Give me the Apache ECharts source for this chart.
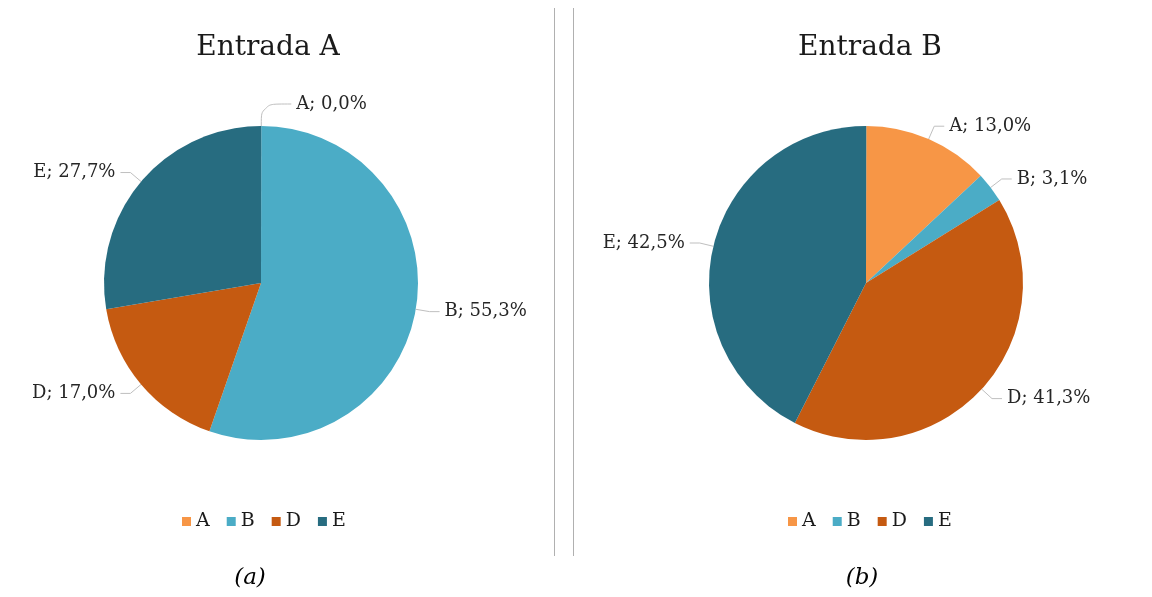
<!DOCTYPE html>
<html>
<head>
<meta charset="utf-8">
<script src="https://cdn.jsdelivr.net/npm/echarts@6/dist/echarts.min.js"></script>
<style>
html,body{margin:0;padding:0;background:#fff;}
#c{width:1152px;height:597px;}
</style>
</head>
<body>
<div id="c"></div>
<script>
const categories = ['A', 'B', 'D', 'E'];
const valuesA = [0.0, 55.3, 17.0, 27.7];
const valuesB = [13.0, 3.1, 41.3, 42.5];
const titles = ['Entrada A', 'Entrada B'];
const captions = ['(a)', '(b)'];
const colors = ['#F79646', '#4BACC6', '#C55A11', '#276C80'];

const FONT = '"DejaVu Serif", "Liberation Serif", serif';
const fmt = p => p.name + '; ' + p.value.toFixed(1).replace('.', ',') + '%';

function pieSeries(values, cx) {
  return {
    type: 'pie',
    center: [cx, 283],
    radius: [0, 157],
    startAngle: 89.9,
    clockwise: true,
    avoidLabelOverlap: false,
    data: categories.map((c, i) => {
      const item = { name: c, value: values[i], itemStyle: { color: colors[i] } };
      if (values[i] === 0) item.labelLine = { length: 22, length2: 30, smooth: 0.4 };
      return item;
    }),
    label: {
      show: true,
      formatter: fmt,
      fontFamily: FONT,
      fontSize: 18,
      color: '#262626'
    },
    labelLine: {
      show: true,
      length: 14,
      length2: 10,
      lineStyle: { color: '#bfbfbf', width: 1 }
    },
    emphasis: { disabled: true }
  };
}

const legendStyle = { fontFamily: FONT, fontSize: 19, color: '#1a1a1a' };

const chart = echarts.init(document.getElementById('c'));
chart.setOption({
  animation: false,
  backgroundColor: '#fff',
  color: colors,
  title: [
    { text: titles[0], left: 263, top: 29, textAlign: 'center', textStyle: { fontFamily: FONT, fontSize: 28, fontWeight: 'normal', color: '#1a1a1a' } },
    { text: titles[1], left: 865, top: 29, textAlign: 'center', textStyle: { fontFamily: FONT, fontSize: 28, fontWeight: 'normal', color: '#1a1a1a' } }
  ],
  legend: [
    { data: categories, left: 177, top: 507, itemWidth: 9, itemHeight: 9, itemGap: 17, icon: 'rect', textStyle: legendStyle },
    { data: categories, left: 783, top: 507, itemWidth: 9, itemHeight: 9, itemGap: 17, icon: 'rect', textStyle: legendStyle }
  ],
  graphic: [
    { type: 'line', shape: { x1: 554.5, y1: 8, x2: 554.5, y2: 556 }, style: { stroke: '#b0b0b0', lineWidth: 1 } },
    { type: 'line', shape: { x1: 573.5, y1: 8, x2: 573.5, y2: 556 }, style: { stroke: '#b0b0b0', lineWidth: 1 } },
    { type: 'text', x: 250, y: 578, style: { text: captions[0], font: 'italic 23px ' + FONT, fill: '#000', align: 'center', verticalAlign: 'middle' } },
    { type: 'text', x: 862, y: 578, style: { text: captions[1], font: 'italic 23px ' + FONT, fill: '#000', align: 'center', verticalAlign: 'middle' } }
  ],
  series: [pieSeries(valuesA, 261), pieSeries(valuesB, 866)]
});
</script>
</body>
</html>
